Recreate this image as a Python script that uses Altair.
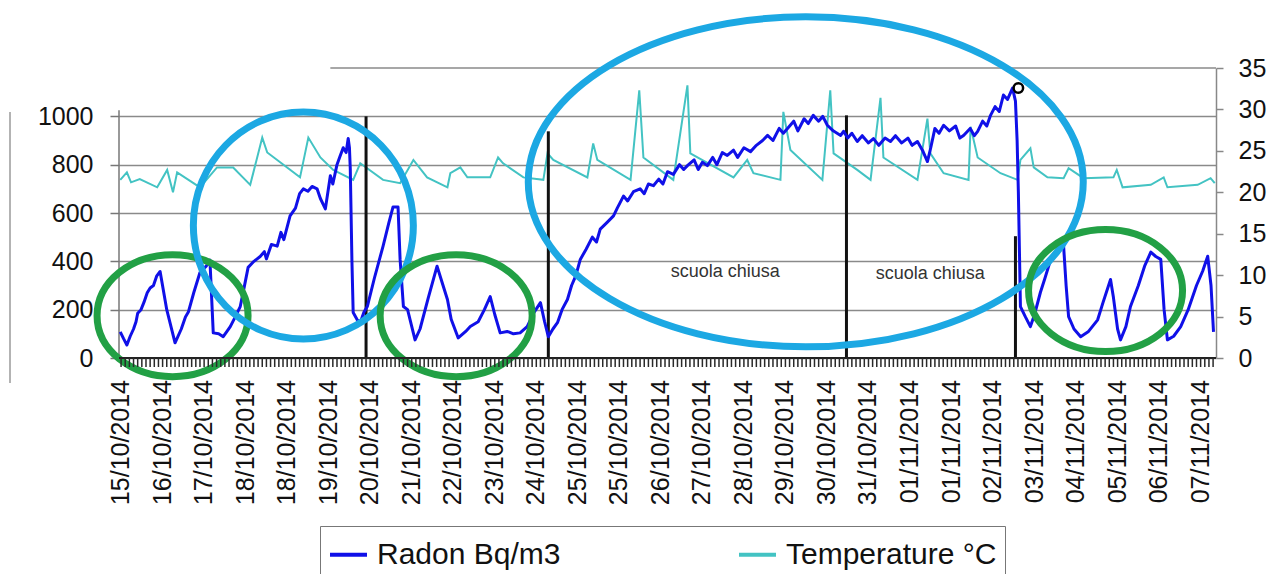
import altair as alt
import pandas as pd

# ---------------- data ----------------
x_labels = ["15/10/2014", "16/10/2014", "17/10/2014", "18/10/2014", "18/10/2014",
            "19/10/2014", "20/10/2014", "21/10/2014", "22/10/2014", "23/10/2014",
            "24/10/2014", "25/10/2014", "25/10/2014", "26/10/2014", "27/10/2014",
            "28/10/2014", "29/10/2014", "30/10/2014", "31/10/2014", "01/11/2014",
            "01/11/2014", "02/11/2014", "03/11/2014", "04/11/2014", "05/11/2014",
            "06/11/2014", "07/11/2014"]

radon_t = [-0.02, 0.06, 0.14, 0.22, 0.3, 0.36, 0.4, 0.48, 0.55, 0.63, 0.7, 0.78, 0.86, 0.94,
           1.1, 1.3, 1.45, 1.55, 1.62, 1.75, 1.9, 2.05, 2.14, 2.22, 2.35, 2.46, 2.55, 2.63,
           2.75, 2.87, 2.95, 3.06, 3.2, 3.35, 3.45, 3.5, 3.62, 3.76, 3.85, 3.92, 4.07, 4.2,
           4.3, 4.39, 4.5, 4.6, 4.72, 4.8, 4.92, 5.04, 5.1, 5.2, 5.28, 5.35, 5.42, 5.47, 5.5,
           5.52, 5.56, 5.59, 5.68, 5.76, 5.85, 5.93, 6.1, 6.31, 6.45, 6.55, 6.67, 6.72, 6.8,
           6.9, 7.08, 7.2, 7.4, 7.61, 7.7, 7.86, 7.95, 8.12, 8.3, 8.41, 8.6, 8.75, 8.89, 9.0,
           9.13, 9.3, 9.45, 9.61, 9.78, 9.95, 10.1, 10.2, 10.29, 10.4, 10.51, 10.62, 10.75,
           10.85, 10.95, 11.06, 11.2, 11.35, 11.45, 11.54, 11.7, 11.86, 11.95, 12.1, 12.2,
           12.34, 12.5, 12.6, 12.7, 12.82, 12.95, 13.05, 13.16, 13.3, 13.45, 13.55, 13.64,
           13.8, 13.9, 14.0, 14.12, 14.25, 14.35, 14.48, 14.6, 14.75, 14.85, 15.0, 15.16,
           15.3, 15.45, 15.57, 15.7, 15.85, 15.95, 16.05, 16.2, 16.3, 16.45, 16.55, 16.67,
           16.8, 16.9, 17.01, 17.15, 17.33, 17.4, 17.5, 17.6, 17.73, 17.85, 18.0, 18.12,
           18.25, 18.4, 18.53, 18.65, 18.8, 18.95, 19.05, 19.18, 19.3, 19.42, 19.5, 19.6,
           19.7, 19.81, 19.95, 20.1, 20.2, 20.29, 20.45, 20.55, 20.63, 20.75, 20.85, 20.94,
           21.05, 21.15, 21.25, 21.35, 21.47, 21.54, 21.58, 21.61, 21.66, 21.78, 21.9, 22.0,
           22.14, 22.25, 22.39, 22.55, 22.7, 22.76, 22.82, 22.95, 23.11, 23.3, 23.52, 23.65,
           23.83, 23.9, 24.0, 24.07, 24.2, 24.31, 24.5, 24.65, 24.8, 24.92, 25.04, 25.12,
           25.2, 25.35, 25.52, 25.7, 25.9, 26.05, 26.17, 26.25, 26.31]
radon_v = [108, 80, 54, 90, 120, 150, 185, 200, 230, 270, 290, 300, 340, 358,
           200, 63, 120, 170, 190, 270, 354, 380, 405, 104, 100, 88, 110, 130,
           170, 213, 280, 375, 400, 420, 440, 410, 470, 463, 520, 490, 588, 620,
           680, 700, 690, 710, 700, 660, 617, 754, 720, 800, 838, 870, 850, 908, 870,
           783, 400, 188, 160, 146, 190, 213, 330, 463, 560, 625, 625, 408, 213,
           200, 75, 120, 250, 380, 330, 242, 160, 83, 110, 130, 150, 200, 254, 180,
           104, 110, 100, 104, 130, 190, 229, 150, 88, 120, 146, 200, 242,
           300, 340, 408, 450, 500, 480, 533, 560, 588, 620, 670, 650,
           688, 700, 680, 720, 713, 740, 720, 771, 760, 800, 780, 796,
           820, 780, 810, 796, 830, 800, 850, 838, 860, 830, 870, 854,
           880, 900, 921, 900, 950, 930, 950, 980, 940, 990, 970, 1004,
           980, 1000, 963, 940, 921, 938, 910, 930, 896, 920, 890, 908,
           880, 910, 896, 920, 890, 910, 880, 896, 860, 813, 870, 950,
           930, 963, 940, 960, 910, 921, 950, 920, 938, 980, 960, 1004,
           1040, 1020, 1088, 1070, 1117, 1063, 900, 688, 213, 170, 130, 180,
           271, 330, 408, 440, 463, 300, 171, 120, 88, 110, 158, 230,
           325, 250, 120, 75, 130, 213, 300, 380, 438, 420, 408, 200,
           75, 90, 130, 200, 300, 360, 421, 300, 108]

temp_t = [-0.02, 0.14, 0.24, 0.45, 0.87, 1.11, 1.25, 1.35, 1.9, 2.31, 2.7, 3.11, 3.4, 3.52,
          4.31, 4.51, 4.8, 5.11, 5.59, 5.76, 6.31, 6.72, 7.04, 7.37, 7.86, 7.93, 8.17, 8.34,
          8.89, 9.08, 9.2, 9.69, 10.17, 10.27, 10.41, 11.23, 11.37, 11.47, 12.27, 12.48,
          12.58, 13.3, 13.64, 13.71, 14.75, 15.08, 15.23, 15.88, 15.95, 16.12, 16.89, 17.08,
          17.16, 17.73, 18.05, 18.29, 18.36, 19.18, 19.42, 19.49, 19.81, 20.41, 20.46, 20.63,
          21.18, 21.59, 21.66, 21.9, 21.98, 22.31, 22.7, 22.82, 23.18, 23.9, 23.98, 24.12,
          24.8, 25.11, 25.2, 25.93, 26.24, 26.34]
temp_v = [21.5, 22.4, 21.2, 21.6, 20.6, 22.7, 20.0, 22.4, 20.6, 23.0, 23.0, 20.9, 26.6, 24.8,
          21.8, 26.6, 24.2, 22.7, 21.5, 23.5, 21.5, 21.1, 23.9, 21.8, 20.6, 22.3, 23.0, 21.8,
          21.8, 24.2, 23.5, 21.8, 21.5, 24.7, 23.9, 21.8, 25.9, 23.9, 21.5, 32.3,
          24.2, 21.5, 32.9, 24.7, 21.8, 23.9, 22.3, 21.5, 29.7, 25.1, 21.5, 32.3,
          24.7, 22.7, 21.5, 31.4, 24.2, 21.5, 28.9, 24.7, 22.3, 21.5, 27.9, 24.2,
          22.3, 21.5, 23.9, 25.3, 23.0, 21.8, 21.7, 22.9, 21.7, 21.8, 22.7, 20.6,
          20.9, 21.8, 20.6, 20.9, 21.7, 21.1]

# black marker bars (position, height in Bq/m3)
bar_t = [5.9, 10.29, 17.47, 21.54]
bar_top = [1000, 938, 1004, 504]

# annotations
note_text = ["scuola chiusa", "scuola chiusa"]
note_t = [14.55, 19.49]
note_v = [354, 346]

ell_t = [1.24, 4.39, 8.07, 16.49, 23.71]
ell_v = [175, 548, 175, 729, 279]
ell_rx = [75.5, 110, 76, 277.5, 77]
ell_ry = [61, 113.5, 61, 165, 61]
ell_color = ["#22a045", "#1ca8e3", "#22a045", "#1ca8e3", "#22a045"]

T0, T1 = -0.05, 26.37
W, H = 1097, 290
FONT = "Liberation Sans"
SERIES = ["Radon Bq/m3", "Temperature °C"]
COLORS = ["#1010e8", "#43c3c3"]

minor_ticks = [k / 10 for k in range(0, 264)]

# ---------------- encodings ----------------
x_scale = alt.Scale(domain=[T0, T1], nice=False, zero=False)


def X(field="t"):
    return alt.X(f"{field}:Q", scale=x_scale, axis=None)


yl_scale = alt.Scale(domain=[0, 1200], nice=False)
yl_axis = alt.Axis(values=[0, 200, 400, 600, 800, 1000], orient="left", grid=True,
                   format="d",
                   gridColor="#8a8a8a", gridWidth=1.5, domain=False, tickSize=9,
                   tickColor="#777", tickWidth=1.5, labelFontSize=25, labelFont=FONT,
                   labelColor="#111", labelPadding=17, title=None)


def YL(field):
    return alt.Y(f"{field}:Q", scale=yl_scale, axis=yl_axis)


legend = alt.Legend(orient="none", legendX=201, legendY=458, direction="horizontal",
                    title=None, labelFontSize=30, labelFont=FONT, labelColor="#111",
                    symbolType="stroke", symbolSize=1369, symbolStrokeWidth=4,
                    strokeColor="#777", fillColor="white", padding=8,
                    columnPadding=170, labelOffset=8, labelLimit=400)
color = alt.Color("series:N", scale=alt.Scale(domain=SERIES, range=COLORS), legend=legend)

# ---------------- layers ----------------
radon_df = pd.DataFrame({"t": radon_t, "v": radon_v, "series": SERIES[0]})
temp_df = pd.DataFrame({"t": temp_t, "v": temp_v, "series": SERIES[1]})
bars_df = pd.DataFrame({"t": bar_t, "top": bar_top, "base": 0})
notes_df = pd.DataFrame({"t": note_t, "v": note_v, "txt": note_text})

bars = alt.Chart(bars_df).mark_rule(color="#111", strokeWidth=3).encode(
    x=X(), y=YL("base"), y2="top:Q")

top_grid = alt.Chart(pd.DataFrame({"t": [5.04], "t2": [T1], "v": [1200]})).mark_rule(
    color="#8a8a8a", strokeWidth=1.5).encode(x=X(), x2="t2:Q", y=YL("v"))

left_domain = alt.Chart(pd.DataFrame({"t": [T0], "a": [0], "b": [1025]})).mark_rule(
    color="#777", strokeWidth=1.5).encode(x=X(), y=YL("a"), y2="b:Q")

radon_line = alt.Chart(radon_df).mark_line(strokeWidth=3, strokeJoin="round").encode(
    x=X(), y=YL("v"), color=color)

notes = alt.Chart(notes_df).mark_text(font=FONT, fontSize=18, color="#333").encode(
    x=X(), y=YL("v"), text="txt:N")

marker = alt.Chart(pd.DataFrame({"t": [21.61], "v": [1117]})).mark_point(
    shape="circle", size=90, filled=False, stroke="#000", strokeWidth=2.5,
    opacity=1).encode(x=X(), y=YL("v"))

ellipses = []
for t, v, rx, ry, c in zip(ell_t, ell_v, ell_rx, ell_ry, ell_color):
    k = ry / rx
    path = f"M -1 0 A 1 {k:.4f} 0 1 1 1 0 A 1 {k:.4f} 0 1 1 -1 0 Z"
    ellipses.append(
        alt.Chart(pd.DataFrame({"t": [t], "v": [v]})).mark_point(
            shape=path, size=4 * rx * rx, filled=False, stroke=c, strokeWidth=7,
            opacity=1).encode(x=X(), y=YL("v")))

edge_line = alt.Chart(pd.DataFrame({"a": [0]})).mark_rule(color="#9a9a9a", strokeWidth=1.5).encode(
    x=alt.value(-109), y=alt.value(44), y2=alt.value(315))

left_group = alt.layer(bars, top_grid, left_domain, radon_line, notes, marker,
                       *ellipses, edge_line)

temp_line = alt.Chart(temp_df).mark_line(strokeWidth=2).encode(
    x=X(),
    y=alt.Y("v:Q", scale=alt.Scale(domain=[0, 35], nice=False),
            axis=alt.Axis(values=[0, 5, 10, 15, 20, 25, 30, 35], orient="right", grid=False,
                          domainColor="#888", domainWidth=1.5, tickSize=7, tickColor="#888",
                          tickWidth=1.5, labelFontSize=25, labelFont=FONT, labelColor="#111",
                          labelPadding=15, title=None)),
    color=color)

# category axis drawn from marks: base line, dense ticks and rotated date labels
x_base = alt.Chart(alt.Data(values=[{"a": T0, "b": T1}])).mark_rule(
    color="#222", strokeWidth=2).encode(
    x=alt.X("a:Q", scale=x_scale, axis=None), x2="b:Q", y=alt.value(H))

ticks = alt.Chart(alt.Data(values=[{"m": m} for m in minor_ticks])).mark_rule(
    color="#2a2a2a", strokeWidth=1.5).encode(
    x=alt.X("m:Q", scale=x_scale, axis=None), y=alt.value(H), y2=alt.value(H + 9))

date_labels = alt.Chart(alt.Data(values=[{"i": i, "lab": s} for i, s in enumerate(x_labels)])).mark_text(
    angle=270, align="right", baseline="middle", fontSize=25, font=FONT, color="#111").encode(
    x=alt.X("i:Q", scale=x_scale, axis=None), y=alt.value(H + 22), text="lab:N")

chart = alt.layer(temp_line, left_group, x_base, ticks, date_labels).resolve_scale(
    y="independent").properties(
    width=W, height=H,
    autosize=alt.AutoSizeParams(type="none"),
    padding={"left": 111, "top": 60, "right": 56, "bottom": 216},
).configure(font=FONT).configure_view(stroke=None)

chart.save("out.html", embed_options={"renderer": "svg", "actions": False})
